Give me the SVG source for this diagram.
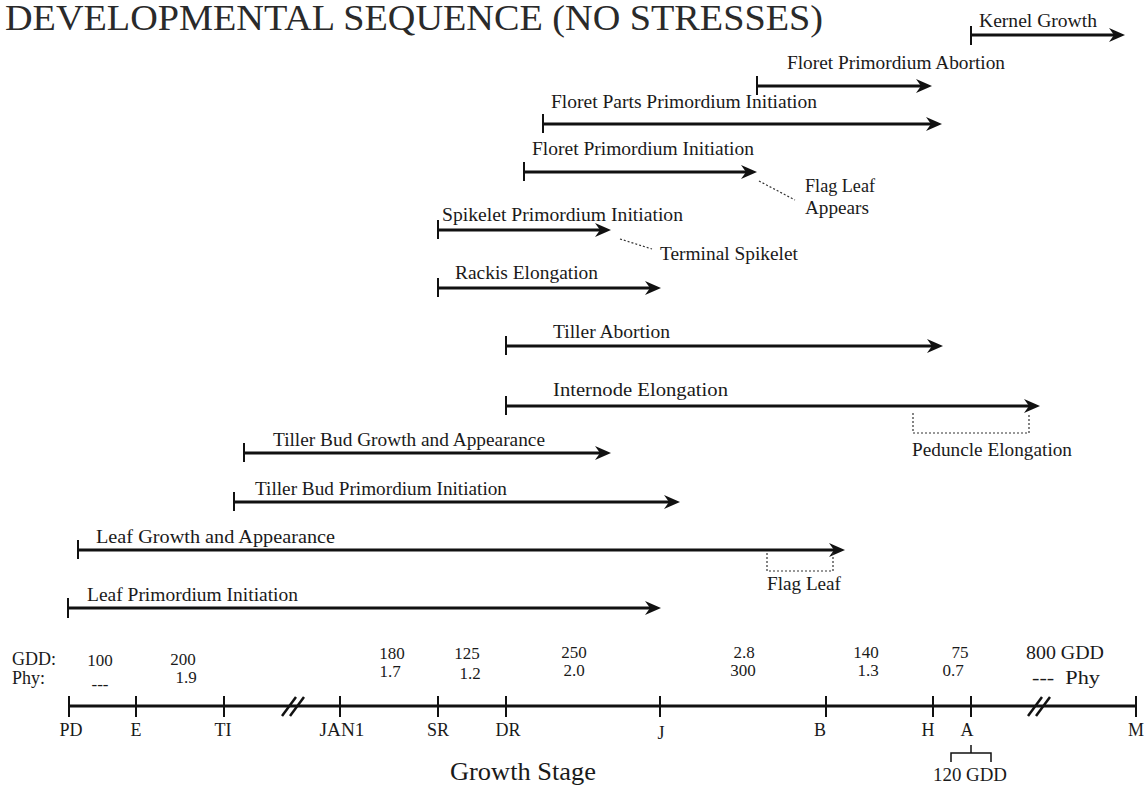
<svg xmlns="http://www.w3.org/2000/svg" width="1147" height="786" viewBox="0 0 1147 786">
<style>
text{font-family:"Liberation Serif","Times New Roman",serif;fill:#1a1a1a;font-size:18px}
.title{font-size:35px;fill:#2a2a2a}
.bar{stroke:#111;stroke-width:3;fill:none}
.tick{stroke:#111;stroke-width:2}
.dot{stroke:#333;stroke-width:1.2;stroke-dasharray:2 2;fill:none}
.axis{stroke:#111;stroke-width:3;fill:none}
.atk{stroke:#111;stroke-width:2}
.mid{text-anchor:middle}
.num{font-size:17px}
.gs{font-size:25px}
</style>
<defs>
<marker id="ah" markerUnits="userSpaceOnUse" viewBox="0 0 16 14" refX="8" refY="7" markerWidth="16" markerHeight="14" orient="auto">
<path d="M16,7 L0,0 L5,7 L0,14 Z" fill="#111"/>
</marker>
</defs>
<rect width="1147" height="786" fill="#fff"/>
<text class="title" x="5" y="30" textLength="818" lengthAdjust="spacingAndGlyphs">DEVELOPMENTAL SEQUENCE (NO STRESSES)</text>

<g id="kernel-growth"><line class="tick" x1="971" y1="26" x2="971" y2="45"/><line class="bar" x1="971" y1="35" x2="1117" y2="35" marker-end="url(#ah)"/><text x="979" y="27" textLength="118" lengthAdjust="spacingAndGlyphs">Kernel Growth</text></g>
<g id="floret-primordium-abortion"><line class="tick" x1="757" y1="76" x2="757" y2="95"/><line class="bar" x1="757" y1="86" x2="924" y2="86" marker-end="url(#ah)"/><text x="787" y="69" textLength="218" lengthAdjust="spacingAndGlyphs">Floret Primordium Abortion</text></g>
<g id="floret-parts-primordium-initiation"><line class="tick" x1="543" y1="114" x2="543" y2="133"/><line class="bar" x1="543" y1="124" x2="934" y2="124" marker-end="url(#ah)"/><text x="551" y="108" textLength="266" lengthAdjust="spacingAndGlyphs">Floret Parts Primordium Initiation</text></g>
<g id="floret-primordium-initiation"><line class="tick" x1="524" y1="162" x2="524" y2="181"/><line class="bar" x1="524" y1="172" x2="749" y2="172" marker-end="url(#ah)"/><text x="532" y="155" textLength="222" lengthAdjust="spacingAndGlyphs">Floret Primordium Initiation</text></g>
<g id="flag-leaf-appears"><text x="805" y="192" textLength="70" lengthAdjust="spacingAndGlyphs">Flag Leaf</text><text x="805" y="214" textLength="64" lengthAdjust="spacingAndGlyphs">Appears</text></g>
<g id="spikelet-primordium-initiation"><line class="tick" x1="438" y1="220" x2="438" y2="239"/><line class="bar" x1="438" y1="230" x2="603" y2="230" marker-end="url(#ah)"/><text x="442" y="221" textLength="241" lengthAdjust="spacingAndGlyphs">Spikelet Primordium Initiation</text></g>
<g id="terminal-spikelet"><text x="660" y="260" textLength="138" lengthAdjust="spacingAndGlyphs">Terminal Spikelet</text></g>
<g id="rackis-elongation"><line class="tick" x1="438" y1="278" x2="438" y2="297"/><line class="bar" x1="438" y1="288" x2="653" y2="288" marker-end="url(#ah)"/><text x="455" y="279" textLength="143" lengthAdjust="spacingAndGlyphs">Rackis Elongation</text></g>
<g id="tiller-abortion"><line class="tick" x1="506" y1="336" x2="506" y2="355"/><line class="bar" x1="506" y1="346" x2="935" y2="346" marker-end="url(#ah)"/><text x="553" y="338" textLength="117" lengthAdjust="spacingAndGlyphs">Tiller Abortion</text></g>
<g id="internode-elongation"><line class="tick" x1="506" y1="396" x2="506" y2="415"/><line class="bar" x1="506" y1="406" x2="1032" y2="406" marker-end="url(#ah)"/><text x="553" y="396" textLength="175" lengthAdjust="spacingAndGlyphs">Internode Elongation</text></g>
<g id="peduncle-elongation"><text x="912" y="456" textLength="160" lengthAdjust="spacingAndGlyphs">Peduncle Elongation</text></g>
<g id="tiller-bud-growth"><line class="tick" x1="244" y1="443" x2="244" y2="462"/><line class="bar" x1="244" y1="453" x2="603" y2="453" marker-end="url(#ah)"/><text x="273" y="446" textLength="272" lengthAdjust="spacingAndGlyphs">Tiller Bud Growth and Appearance</text></g>
<g id="tiller-bud-primordium-initiation"><line class="tick" x1="234" y1="492" x2="234" y2="511"/><line class="bar" x1="234" y1="502" x2="672" y2="502" marker-end="url(#ah)"/><text x="255" y="495" textLength="252" lengthAdjust="spacingAndGlyphs">Tiller Bud Primordium Initiation</text></g>
<g id="leaf-growth"><line class="tick" x1="78" y1="540" x2="78" y2="559"/><line class="bar" x1="78" y1="550" x2="837" y2="550" marker-end="url(#ah)"/><text x="96" y="543" textLength="239" lengthAdjust="spacingAndGlyphs">Leaf Growth and Appearance</text></g>
<g id="flag-leaf"><text x="767" y="590" textLength="74" lengthAdjust="spacingAndGlyphs">Flag Leaf</text></g>
<g id="leaf-primordium-initiation"><line class="tick" x1="68" y1="598" x2="68" y2="618"/><line class="bar" x1="68" y1="608" x2="653" y2="608" marker-end="url(#ah)"/><text x="87" y="601" textLength="211" lengthAdjust="spacingAndGlyphs">Leaf Primordium Initiation</text></g>

<g id="connectors">
<line class="dot" x1="759" y1="181" x2="795" y2="200"/>
<line class="dot" x1="620" y1="239" x2="652" y2="249"/>
<polyline class="dot" points="913,413 913,433 1029,433 1029,413"/>
<polyline class="dot" points="767,553 767,571 833,571 833,553"/>
</g>

<g id="axis">
<line class="axis" x1="68" y1="706" x2="1137" y2="706"/>
<line class="atk" x1="69" y1="696" x2="69" y2="717"/>
<line class="atk" x1="136" y1="696" x2="136" y2="717"/>
<line class="atk" x1="224" y1="696" x2="224" y2="717"/>
<line class="atk" x1="340" y1="696" x2="340" y2="717"/>
<line class="atk" x1="438" y1="696" x2="438" y2="717"/>
<line class="atk" x1="506" y1="696" x2="506" y2="717"/>
<line class="atk" x1="660" y1="696" x2="660" y2="717"/>
<line class="atk" x1="826" y1="696" x2="826" y2="717"/>
<line class="atk" x1="933" y1="696" x2="933" y2="717"/>
<line class="atk" x1="971" y1="696" x2="971" y2="717"/>
<line class="atk" x1="1136" y1="696" x2="1136" y2="717"/>
<line x1="282" y1="716" x2="296" y2="697" stroke="#111" stroke-width="2.5"/>
<line x1="290" y1="716" x2="304" y2="697" stroke="#111" stroke-width="2.5"/>
<line x1="1028" y1="716" x2="1042" y2="697" stroke="#111" stroke-width="2.5"/>
<line x1="1036" y1="716" x2="1050" y2="697" stroke="#111" stroke-width="2.5"/>
<polyline points="971,745 971,753" stroke="#111" stroke-width="1.5" fill="none"/>
<polyline points="951,762 951,753 991,753 991,762" stroke="#111" stroke-width="1.5" fill="none"/>
</g>

<g id="stage-labels">
<text class="mid" x="71" y="736">PD</text>
<text class="mid" x="136" y="736">E</text>
<text class="mid" x="223" y="736">TI</text>
<text class="mid" x="342" y="736" textLength="45" lengthAdjust="spacingAndGlyphs">JAN1</text>
<text class="mid" x="438" y="736">SR</text>
<text class="mid" x="508" y="736">DR</text>
<text class="mid" x="661" y="739">J</text>
<text class="mid" x="820" y="736">B</text>
<text class="mid" x="928" y="736">H</text>
<text class="mid" x="967" y="736">A</text>
<text class="mid" x="1136" y="736">M</text>
<text x="933" y="781" textLength="74" lengthAdjust="spacingAndGlyphs">120 GDD</text>
<text class="gs" x="450" y="780" textLength="146" lengthAdjust="spacingAndGlyphs">Growth Stage</text>
</g>

<g id="gdd-phy">
<text x="12" y="665" font-size="19">GDD:</text>
<text x="12" y="684" font-size="19">Phy:</text>
<text class="mid num" x="100" y="666">100</text>
<text class="mid num" x="100" y="690">---</text>
<text class="mid num" x="183" y="665">200</text>
<text class="mid num" x="186" y="683">1.9</text>
<text class="mid num" x="392" y="659">180</text>
<text class="mid num" x="390" y="677">1.7</text>
<text class="mid num" x="467" y="659">125</text>
<text class="mid num" x="470" y="679">1.2</text>
<text class="mid num" x="574" y="658">250</text>
<text class="mid num" x="574" y="676">2.0</text>
<text class="mid num" x="744" y="658">2.8</text>
<text class="mid num" x="743" y="676">300</text>
<text class="mid num" x="866" y="658">140</text>
<text class="mid num" x="868" y="676">1.3</text>
<text class="mid num" x="960" y="658">75</text>
<text class="mid num" x="953" y="676">0.7</text>
<text x="1026" y="659" textLength="78" lengthAdjust="spacingAndGlyphs">800 GDD</text>
<text x="1032" y="684" textLength="68" lengthAdjust="spacingAndGlyphs" xml:space="preserve">---  Phy</text>
</g>
</svg>
